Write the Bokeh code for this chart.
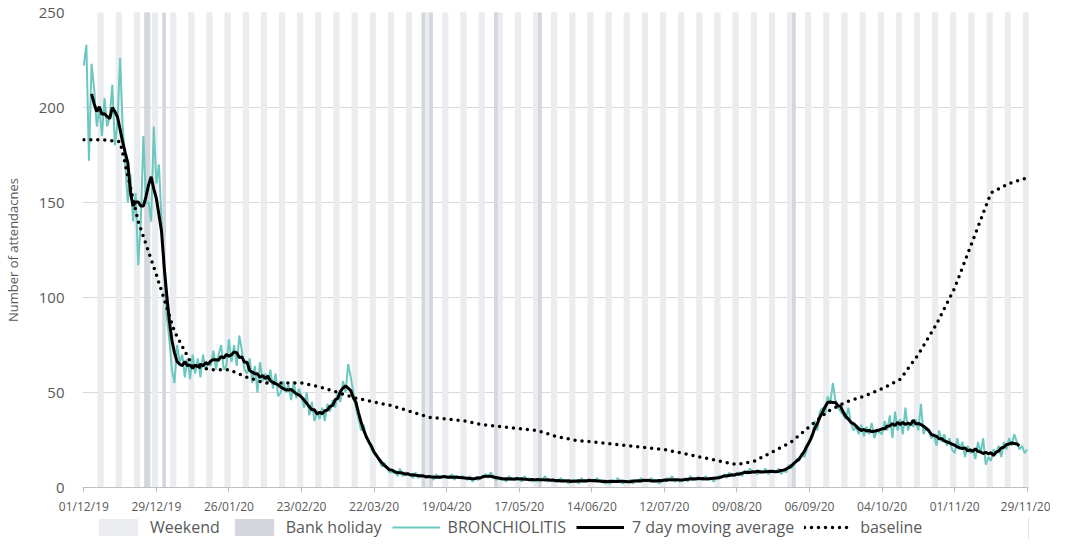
import numpy as np
import pandas as pd
from bokeh.plotting import figure
from bokeh.layouts import column
from bokeh.models import Legend, LegendItem, FixedTicker
from bokeh.embed import file_html
from bokeh.resources import INLINE

start = "2019-12-01"
# daily attendances, week rows starting Sunday
bronchiolitis = [
    222, 233, 172, 223, 210, 190, 200,
    185, 205, 190, 195, 212, 180, 192,
    226, 190, 170, 150, 165, 140, 155,
    117, 140, 185, 150, 150, 140, 190,
    160, 170, 140, 115, 90, 78, 62,
    55, 75, 66, 70, 58, 68, 57,
    70, 60, 68, 58, 70, 62, 66,
    64, 72, 62, 70, 75, 62, 64,
    78, 66, 75, 64, 80, 72, 62,
    60, 68, 55, 64, 50, 66, 56,
    60, 55, 62, 52, 60, 48, 50,
    56, 50, 54, 46, 56, 47, 52,
    48, 42, 50, 38, 45, 35, 40,
    36, 42, 35, 44, 40, 46, 42,
    50, 45, 56, 50, 65, 58, 50,
    42, 36, 30, 33, 26, 24, 20,
    18, 17, 14, 11, 13, 10, 8,
    8, 9, 6, 10, 6, 8, 7,
    7, 5, 8, 5, 7, 6, 6,
    5, 6, 4, 7, 5, 6, 5,
    6, 5, 7, 4, 6, 5, 6,
    5, 4, 6, 3, 5, 4, 5,
    6, 7, 5, 8, 6, 4, 5,
    4, 5, 3, 6, 4, 5, 4,
    5, 3, 6, 4, 5, 3, 4,
    3, 5, 4, 6, 3, 4, 3,
    4, 3, 5, 3, 4, 2, 4,
    3, 4, 2, 5, 3, 4, 3,
    4, 3, 5, 3, 4, 2, 3,
    2, 4, 3, 5, 3, 2, 3,
    3, 4, 2, 4, 3, 5, 3,
    4, 3, 5, 3, 4, 2, 4,
    3, 5, 4, 6, 3, 4, 3,
    4, 5, 3, 6, 4, 5, 4,
    5, 4, 6, 4, 5, 3, 5,
    6, 5, 7, 5, 8, 6, 6,
    7, 8, 6, 9, 7, 10, 8,
    8, 7, 9, 8, 10, 7, 8,
    9, 8, 10, 7, 9, 8, 12,
    10, 12, 15, 14, 18, 16, 20,
    24, 26, 35, 30, 40, 42, 38,
    48, 44, 55, 46, 42, 40, 38,
    36, 42, 34, 30, 32, 28, 33,
    27, 32, 28, 34, 26, 30, 29,
    28, 35, 30, 38, 26, 40, 30,
    36, 28, 42, 30, 34, 32, 36,
    30, 44, 28, 32, 30, 26, 28,
    22, 30, 24, 28, 22, 26, 20,
    18, 26, 20, 24, 16, 22, 18,
    20, 15, 24, 18, 26, 12, 16,
    14, 20, 18, 22, 16, 24, 20,
    26, 22, 28, 24, 20, 22, 18,
    20,
]
# weekly baseline (every 7th day from 01/12/19)
baseline = [183, 183, 182, 140, 112, 82, 64, 62, 62, 58, 55, 55, 55, 53, 50, 47,
            45, 43, 40, 37, 36, 35, 33, 32, 31, 30, 27, 25, 24, 23, 22, 21, 20,
            18, 16, 14, 12, 14, 19, 24, 32, 40, 45, 48, 52, 57, 70, 86, 105,
            130, 155, 160, 163]
bank_holidays = ["2019-12-25", "2019-12-26", "2020-01-01", "2020-04-10",
                 "2020-04-13", "2020-05-08", "2020-05-25", "2020-08-31"]

dates = pd.date_range(start, periods=len(bronchiolitis))
days = np.arange(len(bronchiolitis))
ma = pd.Series(bronchiolitis).rolling(7, center=True).mean()
ok = ~ma.isna().to_numpy()
sat = days[dates.dayofweek == 5]
bh = [(pd.Timestamp(d) - pd.Timestamp(start)).days for d in bank_holidays]
bdays = np.arange(len(baseline)) * 7

WK, BH, TEAL = "#eaecef", "#d3d7dd", "#6cc8bf"

p = figure(width=1050, height=517, output_backend="svg", toolbar_location=None,
           x_range=(-0.5, 364.5), y_range=(0, 250), min_border_left=10,
           min_border_right=22, min_border_top=12, min_border_bottom=30)
p.outline_line_color = None
p.xgrid.grid_line_color = None
p.ygrid.grid_line_color = "#d9d9d9"

p.vbar(x=sat + 0.5, width=2, top=250, color=WK)
p.vbar(x=bh, width=1, top=250, color=BH)
p.line(days, bronchiolitis, color=TEAL, line_width=2)
p.line(days[ok], ma.to_numpy()[ok], color="black", line_width=3)
p.line(bdays, baseline, color="black", line_width=3.5, line_dash="0 7",
       line_cap="round")

ticks = list(range(0, 365, 28))
p.xaxis.ticker = FixedTicker(ticks=ticks)
p.xaxis.major_label_overrides = {t: (pd.Timestamp(start) + pd.Timedelta(days=t)).strftime("%d/%m/%y") for t in ticks}
p.yaxis.ticker = FixedTicker(ticks=[0, 50, 100, 150, 200, 250])
p.yaxis.axis_label = "Number of attendacnes"
p.yaxis.axis_label_standoff = 14
p.yaxis.axis_line_color = None
p.yaxis.major_tick_line_color = None
p.yaxis.minor_tick_line_color = None
p.yaxis.major_label_standoff = 12
p.xaxis.minor_tick_line_color = None
p.xaxis.axis_line_color = "#bfbfbf"
p.xaxis.major_tick_line_color = "#bfbfbf"
p.xaxis.major_tick_in = 0
p.xaxis.major_tick_out = 5
for ax in (p.xaxis, p.yaxis):
    ax.major_label_text_font = "Open Sans"
    ax.major_label_text_color = "#595959"
    ax.axis_label_text_font = "Open Sans"
    ax.axis_label_text_font_style = "normal"
    ax.axis_label_text_color = "#595959"
p.xaxis.major_label_text_font_size = "12px"
p.yaxis.major_label_text_font_size = "15px"
p.yaxis.axis_label_text_font_size = "13px"

# legend strip underneath (its glyphs sit outside the strip's own ranges)
lg = figure(width=1050, height=22, output_backend="svg", toolbar_location=None,
            x_range=(0, 1), y_range=(0, 1), min_border=0)
lg.axis.visible = False
lg.grid.visible = False
lg.outline_line_color = None
r1 = lg.vbar(x=[5], top=[5], width=1, color=WK)
r2 = lg.vbar(x=[5], top=[5], width=1, color=BH)
r3 = lg.line(x=[5, 6], y=[5, 5], color=TEAL, line_width=2)
r4 = lg.line(x=[5, 6], y=[5, 5], color="black", line_width=3)
r5 = lg.line(x=[5, 6], y=[5, 5], color="black", line_width=3.5, line_dash="0 7", line_cap="round")
legend = Legend(items=[
    LegendItem(label="Weekend", renderers=[r1]),
    LegendItem(label="Bank holiday", renderers=[r2]),
    LegendItem(label="BRONCHIOLITIS", renderers=[r3]),
    LegendItem(label="7 day moving average", renderers=[r4]),
    LegendItem(label="baseline", renderers=[r5]),
], orientation="horizontal", border_line_color=None, background_fill_alpha=0,
    location=(12, 1), label_text_font="Open Sans", label_text_font_size="16px",
    label_text_color="#595959", glyph_width=48, label_standoff=8, spacing=10,
    padding=0, margin=0)
lg.add_layout(legend, "center")

open("out.html", "w").write(file_html(column(p, lg, spacing=0), INLINE))
